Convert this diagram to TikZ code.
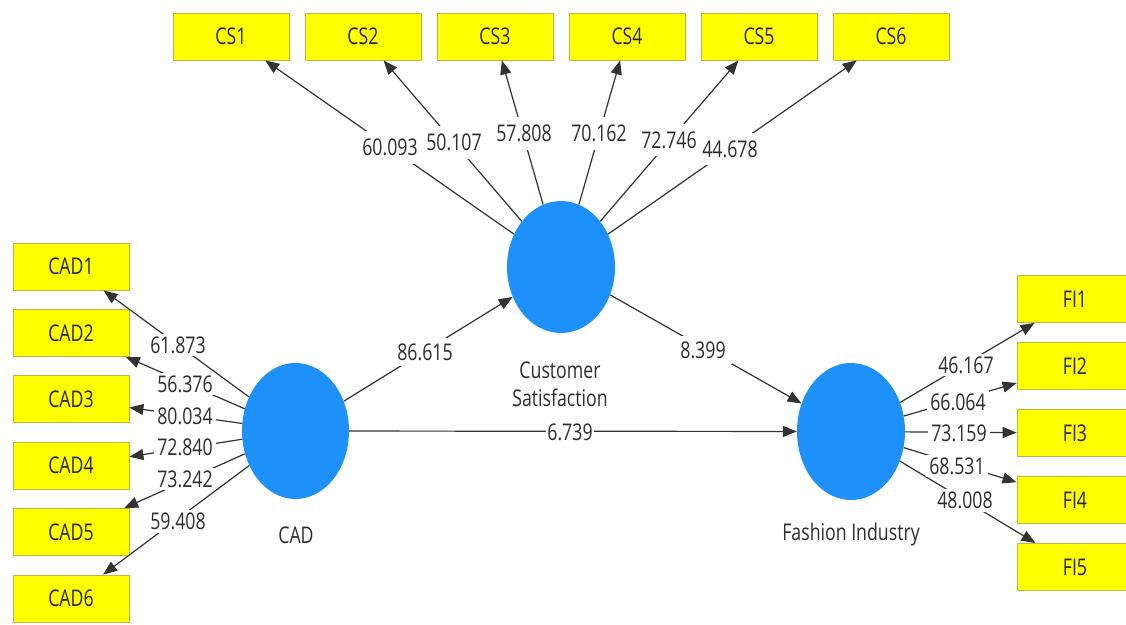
\documentclass[tikz,border=0pt]{standalone}
\usepackage{fontspec}
\setmainfont{Open Sans}[FakeStretch=0.77]
\usetikzlibrary{arrows.meta,shapes.geometric}
\definecolor{lvblue}{RGB}{30,144,250}
\definecolor{indborder}{RGB}{185,185,70}
\definecolor{indfill}{RGB}{255,255,0}
\definecolor{txtgray}{RGB}{45,45,45}
\newcommand{\fs}{\fontsize{23}{28}\selectfont}
\begin{document}
\begin{tikzpicture}[x=1pt,y=-1pt,
  ind/.style={draw=indborder, fill=indfill, line width=0.9pt, minimum width=116pt, minimum height=47pt, inner sep=0pt, font=\fs, text=black!85},
  lv/.style={ellipse, fill=lvblue, inner sep=0pt},
  lbl/.style={fill=white, inner xsep=3pt, inner ysep=3pt, font=\fs, text=txtgray},
  lvname/.style={font=\fs, text=txtgray, align=center},
  conn/.style={draw=black!80, line width=1.2pt, -{Triangle[length=14pt,width=11pt]}}]
\useasboundingbox (0,0) rectangle (1126,624);
\clip (0,0) rectangle (1126,624);
\fill[white] (0,0) rectangle (1126,624);

% latent variables
\node[lv, minimum width=108pt, minimum height=132pt] (CS) at (561,267) {};
\node[lv, minimum width=107pt, minimum height=136pt] (CAD) at (295.5,431) {};
\node[lv, minimum width=108pt, minimum height=137pt] (FI) at (851,431.5) {};

% indicators
\foreach \i in {1,...,6} {
  \node[ind] (CS\i) at ({231+132*(\i-1)},36.5) {CS\i};
  \node[ind] (CAD\i) at (71,{266.5+66.4*(\i-1)}) {CAD\i};
}
\foreach \i in {1,...,5} {
  \node[ind] (FI\i) at (1075,{299+67*(\i-1)}) {FI\i};
}

% connectors
\foreach \i in {1,...,6} {
  \draw[conn] (CS) -- (CS\i);
  \draw[conn] (CAD) -- (CAD\i);
}
\foreach \i in {1,...,5} {
  \draw[conn] (FI) -- (FI\i);
}
\draw[conn] (CAD) -- (CS);
\draw[conn] (CS) -- (FI);
\draw[conn] (CAD) -- (FI);

% loading labels
\node[lbl, inner ysep=8pt] (l1) at (390,147) {60.093};
\node[lbl, inner ysep=8pt] (l2) at (454,142) {50.107};
\node[lbl, inner ysep=8pt] (l3) at (524,133) {57.808};
\node[lbl, inner ysep=8pt] (l4) at (599,133) {70.162};
\node[lbl, inner ysep=8pt] (l5) at (669,140) {72.746};
\node[lbl, inner ysep=8pt] (l6) at (730,149) {44.678};

\node[lbl] (c1) at (178,345) {61.873};
\node[lbl] (c2) at (185,384) {56.376};
\node[lbl] (c3) at (185,416) {80.034};
\node[lbl] (c4) at (185,447) {72.840};
\node[lbl] (c5) at (185,479) {73.242};
\node[lbl] (c6) at (178,521) {59.408};

\node[lbl] (f1) at (966,365) {46.167};
\node[lbl] (f2) at (958,402) {66.064};
\node[lbl] (f3) at (959,433) {73.159};
\node[lbl] (f4) at (957,466) {68.531};
\node[lbl] (f5) at (965,500) {48.008};

% path labels
\node[lbl, inner sep=6pt] (p1) at (425,352) {86.615};
\node[lbl, inner sep=6pt] (p2) at (703,350) {8.399};
\node[lbl, inner sep=1pt] (p3) at (570,432) {6.739};

% latent names
\node[lvname] (nCS) at (560,384) {Customer\\Satisfaction};
\node[lvname] (nCAD) at (296,535) {CAD};
\node[lvname] (nFI) at (851,535) {Fashion Industry};
\end{tikzpicture}
\end{document}
